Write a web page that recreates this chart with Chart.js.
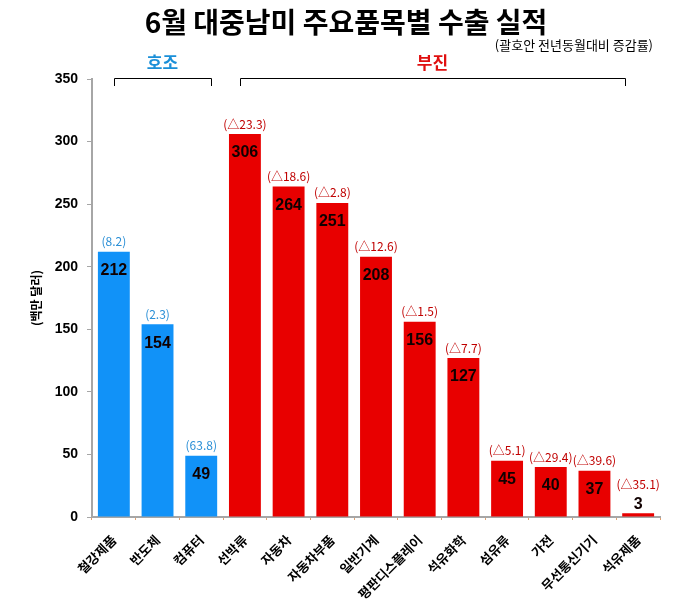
<!DOCTYPE html>
<html><head><meta charset="utf-8">
<script src="https://cdn.jsdelivr.net/npm/chart.js@4/dist/chart.umd.min.js"></script>
<style>html,body{margin:0;padding:0;background:#fff}#wrap{width:678px;height:607px}</style>
</head><body><div id="wrap"><canvas id="c" width="678" height="607"></canvas></div>
<script>
const categories = ['철강제품','반도체','컴퓨터','선박류','자동차','자동차부품','일반기계','평판디스플레이','석유화학','섬유류','가전','무선통신기기','석유제품'];
const exportValues = [212,154,49,306,264,251,208,156,127,45,40,37,3];
const changeLabels = ['(8.2)','(2.3)','(63.8)','(△23.3)','(△18.6)','(△2.8)','(△12.6)','(△1.5)','(△7.7)','(△5.1)','(△29.4)','(△39.6)','(△35.1)'];
const groupNames = ['호조','부진'];
const groupRanges = [[0,2],[3,12]];
const yTicks = [0,50,100,150,200,250,300,350];

const BLUE = '#1192f8', RED = '#e80000';
const barColors = exportValues.map((v,i)=> i<=2 ? BLUE : RED);
const KR = '"Noto Sans CJK KR", sans-serif';

const annot = {
  id:'annot',
  afterDatasetsDraw(chart){
    const ctx = chart.ctx, x = chart.scales.x, y = chart.scales.y;
    const meta = chart.getDatasetMeta(0);
    const step = x.getPixelForValue(1) - x.getPixelForValue(0);
    ctx.save();
    // title
    ctx.fillStyle = '#000';
    ctx.textAlign = 'center'; ctx.textBaseline = 'middle';
    ctx.font = 'bold 28px ' + KR;
    ctx.fillText('6월 대중남미 주요품목별 수출 실적', 346, 22);
    ctx.font = '13px ' + KR;
    ctx.textAlign = 'right';
    ctx.fillText('(괄호안 전년동월대비 증감률)', 653, 45);
    // groups
    const adj = [[0, 0.23],[ -0.12, -0.3]];
    groupRanges.forEach((r,gi)=>{
      const x1 = Math.round(x.getPixelForValue(r[0]) + adj[gi][0]*step);
      const x2 = Math.round(x.getPixelForValue(r[1]) + adj[gi][1]*step);
      ctx.strokeStyle = '#000'; ctx.lineWidth = 1;
      ctx.beginPath();
      ctx.moveTo(x1+0.5, 86); ctx.lineTo(x1+0.5, 78.5); ctx.lineTo(x2+0.5, 78.5); ctx.lineTo(x2+0.5, 86);
      ctx.stroke();
      ctx.fillStyle = gi===0 ? '#1a8fd8' : '#e01010';
      ctx.font = 'bold 17px ' + KR;
      ctx.textAlign = 'center';
      ctx.fillText(groupNames[gi], (x1+x2)/2, 63);
    });
    // bar labels
    meta.data.forEach((bar,i)=>{
      const v = exportValues[i];
      const top = bar.y;
      ctx.textAlign = 'center'; ctx.textBaseline = 'middle';
      ctx.font = 'bold 16px "Liberation Sans", Arial, sans-serif';
      ctx.fillStyle = '#100000';
      const vy = v < 20 ? top - 9 : top + 19;
      ctx.fillText(String(v), bar.x, vy);
      ctx.font = '12px "Noto Sans CJK KR", "DejaVu Sans", sans-serif';
      ctx.fillStyle = i<=2 ? '#2a8fd6' : '#c00000';
      const cy = v < 20 ? top - 29 : top - 10;
      ctx.fillText(changeLabels[i], bar.x, cy);
    });
    // y axis title
    ctx.save();
    ctx.translate(36, 298);
    ctx.rotate(-Math.PI/2);
    ctx.fillStyle = '#000';
    ctx.font = 'bold 12px ' + KR;
    ctx.fillText('(백만 달러)', 0, 0);
    ctx.restore();
    ctx.restore();
  }
};

new Chart(document.getElementById('c'), {
  type:'bar',
  data:{ labels: categories, datasets:[{ data: exportValues, backgroundColor: barColors, barPercentage: 0.73, categoryPercentage: 1.0 }]},
  options:{
    responsive:false, animation:false,
    layout:{ padding:{ top:79, right:18, left:0, bottom:0 } },
    plugins:{ legend:{display:false}, tooltip:{enabled:false} },
    scales:{
      x:{
        grid:{ display:true, drawOnChartArea:false, tickLength:3, color:'#e0a070' },
        border:{ color:'#a6a6a6', width:2 },
        ticks:{ maxRotation:45, minRotation:45, color:'#000', font:{ family:'"Noto Sans CJK KR"', size:13, weight:'bold' }, padding:12 },
        afterFit(s){ s.height = 90; }
      },
      y:{
        min:0, max:350,
        afterBuildTicks(s){ s.ticks = yTicks.map(v=>({value:v})); },
        grid:{ display:true, drawOnChartArea:false, tickLength:5, color:'#a6a6a6' },
        border:{ color:'#a6a6a6', width:2 },
        ticks:{ color:'#000', font:{ family:'"Liberation Sans", Arial', size:14, weight:'bold' }, padding:9 },
        afterFit(s){ s.width = 92; }
      }
    }
  },
  plugins:[annot]
});
</script></body></html>
